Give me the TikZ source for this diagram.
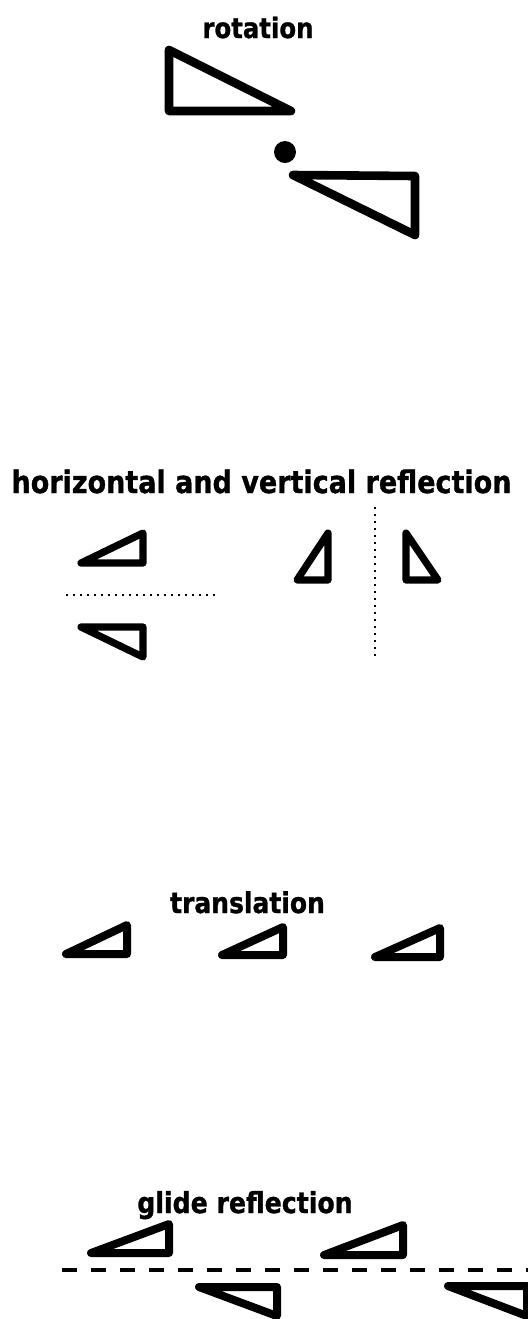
\documentclass[tikz,border=0pt]{standalone}
\usepackage{graphicx}
\usepackage{fontspec}
\setmainfont{DejaVu Sans}
\newfontfamily\lblfont[FakeBold=1.1]{DejaVu Sans Bold}
\newcommand{\tallbox}[1]{\scalebox{1}[1.15]{#1}}
\begin{document}
\begin{tikzpicture}[x=0.5pt,y=-0.5pt,
  tri/.style={draw=black,line width=4pt,line join=round,line cap=round},
  trithick/.style={tri,line width=4.3pt},
  trithin/.style={tri,line width=3.6pt},
  dotline/.style={draw=black,line width=1.2pt,dash pattern=on 1.1pt off 2.4pt},
  dashline/.style={draw=black,line width=1.6pt,dash pattern=on 7.5pt off 7pt},
  lbl/.style={anchor=base,inner sep=0pt}]
\useasboundingbox[fill=white] (0,0) rectangle (528,1319);
% rotation
\node[lbl,font=\lblfont\fontsize{12.2}{14}\selectfont] (trot) at (258,38) {\tallbox{rotation}};
\draw[trithick] (169,50) -- (169,111) -- (291,111) -- cycle;
\fill (285,152) circle (11);
\draw[trithick] (293,175) -- (415,176) -- (415,235) -- cycle;
% reflections
\node[lbl,font=\lblfont\fontsize{13.5}{16}\selectfont] (tref) at (261.5,493) {\tallbox{horizontal and vertical reflection}};
\draw[trithin] (81,563) -- (143,533) -- (143,563) -- cycle;
\draw[dotline] (66,595) -- (218,595);
\draw[trithin] (81,627) -- (143,657) -- (143,627) -- cycle;
\draw[trithin] (297,580) -- (328,533) -- (328,580) -- cycle;
\draw[dotline] (375,507) -- (375,658);
\draw[trithin] (438,580) -- (406,533) -- (406,580) -- cycle;
% translation
\node[lbl,font=\lblfont\fontsize{12.5}{15}\selectfont] (ttr) at (247.5,913) {\tallbox{translation}};
\draw[tri] (66,954) -- (127,925) -- (127,954) -- cycle;
\draw[tri] (222,955) -- (283,927) -- (283,955) -- cycle;
\draw[tri] (375,957) -- (440,928) -- (440,957) -- cycle;
% glide reflection
\node[lbl,font=\lblfont\fontsize{12.6}{15}\selectfont] (tgl) at (245,1213) {\tallbox{glide reflection}};
\draw[tri] (91,1253) -- (169,1224) -- (169,1253) -- cycle;
\draw[tri] (324,1255) -- (403,1225) -- (403,1255) -- cycle;
\draw[dashline] (62,1270) -- (528,1270);
\draw[tri] (199,1287) -- (277,1316) -- (277,1287) -- cycle;
\draw[tri] (448,1286) -- (527,1316) -- (527,1286) -- cycle;
\end{tikzpicture}
\end{document}
